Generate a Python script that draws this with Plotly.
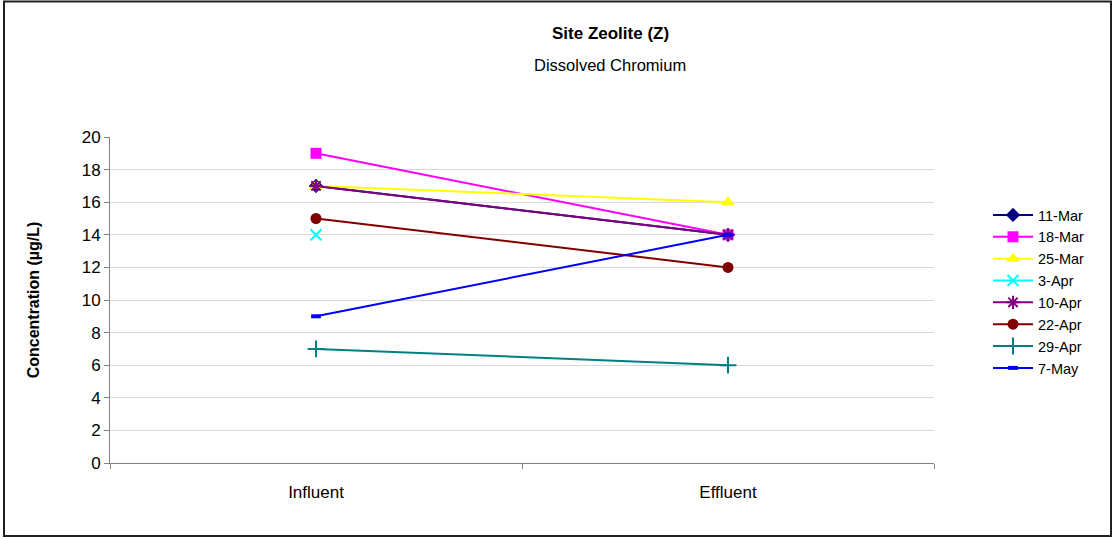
import plotly.graph_objects as go

categories = ["Influent", "Effluent"]
series_names = ["11-Mar", "18-Mar", "25-Mar", "3-Apr", "10-Apr", "22-Apr", "29-Apr", "7-May"]
s_11mar = [17, 14]
s_18mar = [19, 14]
s_25mar = [17, 16]
s_3apr = [14, None]
s_10apr = [17, 14]
s_22apr = [15, 12]
s_29apr = [7, 6]
s_7may = [9, 14]
series_values = [s_11mar, s_18mar, s_25mar, s_3apr, s_10apr, s_22apr, s_29apr, s_7may]
y_ticks = [0, 2, 4, 6, 8, 10, 12, 14, 16, 18, 20]

colors = ["#000080", "#FF00FF", "#FFFF00", "#00FFFF", "#800080", "#800000", "#008080", "#0000FF"]
symbols = ["diamond", "square", "triangle-up", "x-thin-open", "asterisk-open", "circle", "cross-thin-open", "line-ew-open"]
sizes = [11, 11, 12, 11, 11, 11, 12, 7]
mlw = [0, 0, 0, 2, 2, 0, 2, 4]

W, H = 1113, 539
L, R, T, B = 110, 934, 137, 463
pw, ph = R - L, B - T

fig = go.Figure()
for name, vals, c, s, sz, lw in zip(series_names, series_values, colors, symbols, sizes, mlw):
    fig.add_trace(go.Scatter(
        x=categories, y=vals, name=name, mode="lines+markers",
        line=dict(color=c, width=2),
        marker=dict(symbol=s, size=sz, color=c, line=dict(color=c, width=lw)),
        connectgaps=False,
    ))

def px_x(x):
    return (x - L) / pw

def px_y(y):
    return (B - y) / ph

fig.update_layout(
    width=W, height=H,
    margin=dict(l=L, r=W - R, t=T, b=H - B),
    paper_bgcolor="white", plot_bgcolor="white",
    font=dict(family="Liberation Sans, Arial, sans-serif", color="black"),
    showlegend=True,
    legend=dict(x=px_x(988), y=px_y(199), xanchor="left", yanchor="top",
                font=dict(size=14.5), tracegroupgap=0, itemwidth=40,
                bgcolor="rgba(0,0,0,0)"),
    xaxis=dict(type="category", tickson="boundaries", ticks="outside", ticklen=5,
               tickcolor="#808080", showline=True, linecolor="#808080", linewidth=1,
               showgrid=False, tickfont=dict(size=17), range=[-0.5, 1.5],
               ticklabelstandoff=14),
    yaxis=dict(range=[0, 20], tickvals=y_ticks, ticks="outside", ticklen=5,
               tickcolor="#808080", showline=True, linecolor="#808080", linewidth=1,
               gridcolor="#d9d9d9", gridwidth=1, zeroline=False,
               tickfont=dict(size=17),
               title=dict(text="<b>Concentration (µg/L)</b>", font=dict(size=16), standoff=38)),
    annotations=[
        dict(text="<b>Site Zeolite (Z)</b>", x=px_x(610), y=px_y(33), xref="paper", yref="paper",
             showarrow=False, font=dict(size=17), xanchor="center", yanchor="middle"),
        dict(text="Dissolved Chromium", x=px_x(610), y=px_y(65), xref="paper", yref="paper",
             showarrow=False, font=dict(size=16.5), xanchor="center", yanchor="middle"),
    ],
    shapes=[dict(type="rect", xref="paper", yref="paper",
                 x0=px_x(4), x1=px_x(1111), y0=px_y(536), y1=px_y(1.5),
                 line=dict(color="#202020", width=2), fillcolor="rgba(0,0,0,0)", layer="below")],
)

fig.write_html("out.html", config={"displayModeBar": False},
               post_script="document.body.style.margin='0';")
